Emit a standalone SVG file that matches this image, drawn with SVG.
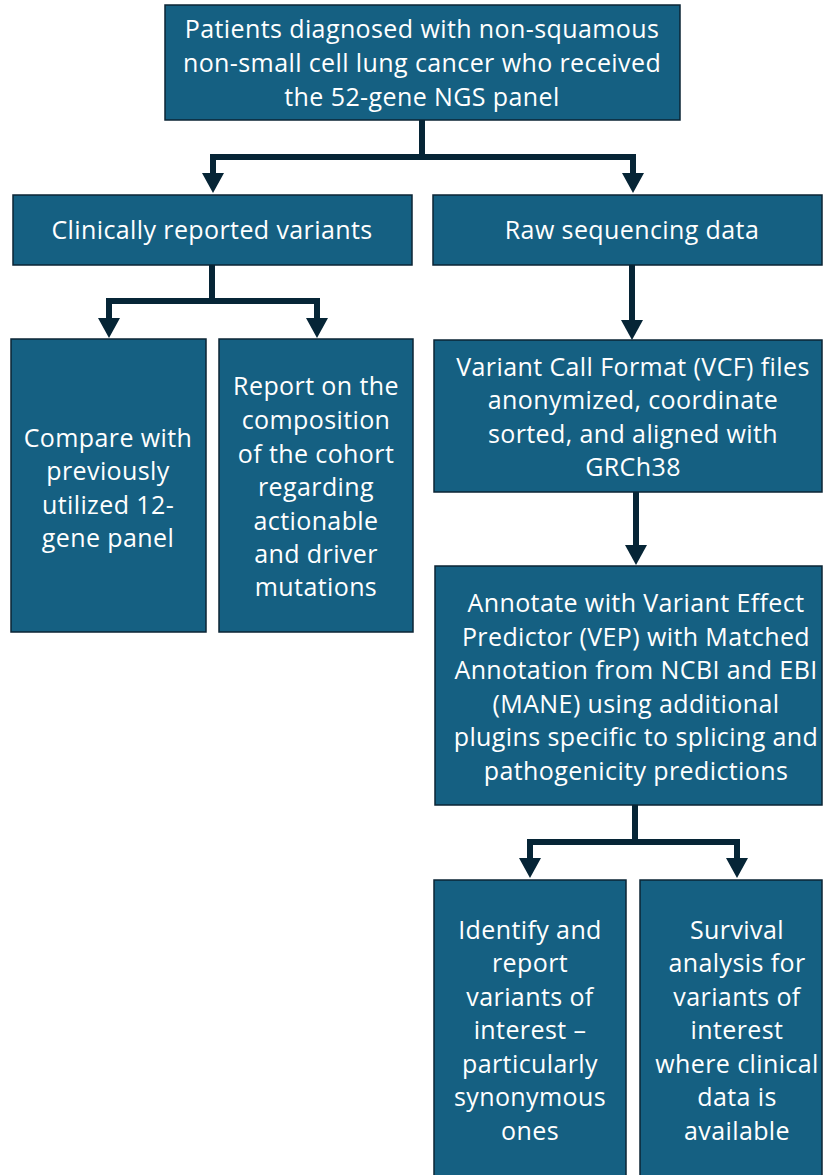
<svg xmlns="http://www.w3.org/2000/svg" width="823" height="1175" viewBox="0 0 823 1175">
<style>
.box{fill:#156082;stroke:#0B2535;stroke-width:1.5}
.t{font-family:"Open Sans","Liberation Sans",Arial,sans-serif;font-size:25px;letter-spacing:0.4px;fill:#ffffff;text-anchor:middle}
.c{fill:none;stroke:#062536;stroke-width:6}
</style>
<rect width="823" height="1175" fill="#ffffff"/>
<g id="connectors">
<path class="c" d="M422,120 V157 M213,157 H633 M213,154 V174 M633,154 V174"/>
<path d="M202,173 H224 L213,193 Z M622,173 H644 L633,193 Z" fill="#062536"/>
<path class="c" d="M212,265 V301 M109,301 H317 M109,298 V319 M317,298 V319"/>
<path d="M98,318 H120 L109,338 Z M306,318 H328 L317,338 Z" fill="#062536"/>
<path class="c" d="M632,265 V321"/>
<path d="M621,320 H643 L632,340 Z" fill="#062536"/>
<path class="c" d="M636,492 V546"/>
<path d="M625,545 H647 L636,565 Z" fill="#062536"/>
<path class="c" d="M635,805 V842 M530,842 H737 M530,839 V859 M737,839 V859"/>
<path d="M519,858 H541 L530,878 Z M726,858 H748 L737,878 Z" fill="#062536"/>
</g>
<g id="n1"><rect class="box" x="165" y="5" width="515" height="115"/>
<text class="t" x="422" y="38">Patients diagnosed with non-squamous</text>
<text class="t" x="422" y="72">non-small cell lung cancer who received</text>
<text class="t" x="422" y="106">the 52-gene NGS panel</text></g>
<g id="n2"><rect class="box" x="13" y="195" width="399" height="70"/>
<text class="t" x="212" y="239">Clinically reported variants</text></g>
<g id="n3"><rect class="box" x="433" y="195" width="389" height="70"/>
<text class="t" x="632" y="239">Raw sequencing data</text></g>
<g id="n4"><rect class="box" x="11" y="339" width="195" height="293"/>
<text class="t" x="108" y="447">Compare with</text>
<text class="t" x="108" y="480">previously</text>
<text class="t" x="108" y="514">utilized 12-</text>
<text class="t" x="108" y="547">gene panel</text></g>
<g id="n5"><rect class="box" x="219" y="339" width="194" height="293"/>
<text class="t" x="316" y="395">Report on the</text>
<text class="t" x="316" y="429">composition</text>
<text class="t" x="316" y="463">of the cohort</text>
<text class="t" x="316" y="496">regarding</text>
<text class="t" x="316" y="530">actionable</text>
<text class="t" x="316" y="563">and driver</text>
<text class="t" x="316" y="596">mutations</text></g>
<g id="n6"><rect class="box" x="434" y="340" width="388" height="152"/>
<text class="t" x="633" y="376">Variant Call Format (VCF) files</text>
<text class="t" x="633" y="409">anonymized, coordinate</text>
<text class="t" x="633" y="443">sorted, and aligned with</text>
<text class="t" x="633" y="476">GRCh38</text></g>
<g id="n7"><rect class="box" x="435" y="566" width="387" height="239"/>
<text class="t" x="636" y="612">Annotate with Variant Effect</text>
<text class="t" x="636" y="646">Predictor (VEP) with Matched</text>
<text class="t" x="636" y="679">Annotation from NCBI and EBI</text>
<text class="t" x="636" y="713">(MANE) using additional</text>
<text class="t" x="636" y="746">plugins specific to splicing and</text>
<text class="t" x="636" y="780">pathogenicity predictions</text></g>
<g id="n8"><rect class="box" x="434" y="880" width="192" height="300"/>
<text class="t" x="530" y="939">Identify and</text>
<text class="t" x="530" y="972">report</text>
<text class="t" x="530" y="1006">variants of</text>
<text class="t" x="530" y="1039">interest –</text>
<text class="t" x="530" y="1073">particularly</text>
<text class="t" x="530" y="1106">synonymous</text>
<text class="t" x="530" y="1140">ones</text></g>
<g id="n9"><rect class="box" x="640" y="880" width="182" height="300"/>
<text class="t" x="737" y="939">Survival</text>
<text class="t" x="737" y="972">analysis for</text>
<text class="t" x="737" y="1006">variants of</text>
<text class="t" x="737" y="1039">interest</text>
<text class="t" x="737" y="1073">where clinical</text>
<text class="t" x="737" y="1106">data is</text>
<text class="t" x="737" y="1140">available</text></g>
</svg>
